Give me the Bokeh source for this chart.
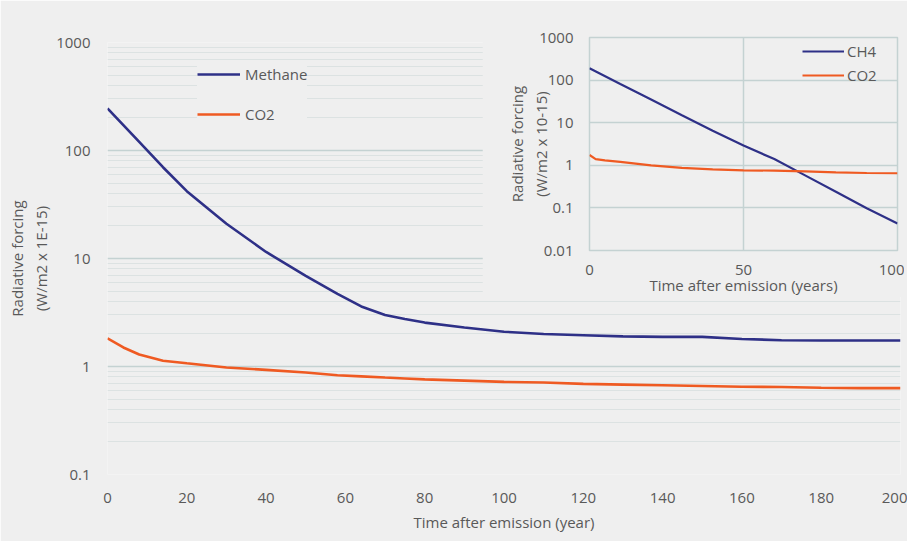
from bokeh.plotting import figure
from bokeh.models import Range1d, FixedTicker, Legend, LegendItem, CustomJSTickFormatter
from bokeh.layouts import column
from bokeh.embed import file_html
from bokeh.resources import INLINE

# ---- main chart data ----
years = [0, 4, 8, 14, 20, 30, 40, 50, 58, 64, 70, 75, 80, 90, 100, 110, 120, 130, 140, 150, 160, 170, 180, 190, 200]
methane = [245, 172, 120, 70, 42, 21, 11.5, 6.9, 4.7, 3.6, 3.0, 2.75, 2.55, 2.3, 2.1, 2.0, 1.95, 1.9, 1.88, 1.88, 1.8, 1.75, 1.74, 1.74, 1.74]
co2 = [1.82, 1.5, 1.29, 1.13, 1.07, 0.98, 0.93, 0.88, 0.83, 0.81, 0.79, 0.775, 0.76, 0.74, 0.72, 0.71, 0.69, 0.68, 0.67, 0.66, 0.65, 0.645, 0.635, 0.63, 0.63]
x_ticks = [0, 20, 40, 60, 80, 100, 120, 140, 160, 180, 200]
y_ticks = [0.1, 1, 10, 100, 1000]

# ---- inset data ----
inset_years_ch4 = [0, 10, 20, 30, 40, 50, 60, 70, 80, 90, 100]
inset_ch4 = [189, 81, 35, 15, 6.5, 2.9, 1.4, 0.58, 0.24, 0.098, 0.043]
inset_years_co2 = [0, 2, 5, 10, 20, 30, 40, 50, 60, 70, 80, 90, 100]
inset_co2 = [1.75, 1.4, 1.3, 1.2, 1.0, 0.87, 0.8, 0.76, 0.75, 0.72, 0.68, 0.66, 0.65]
inset_x_ticks = [0, 50, 100]
inset_y_ticks = [0.01, 0.1, 1, 10, 100, 1000]

BG = "#efefef"
TXT = "#595959"
MAJ = "#c4d2d2"
MIN = "#dce2e2"
NAVY = "#2e3087"
ORANGE = "#ef5a22"
FONT = "Open Sans"
FS = "15px"

fmt_code = "return Number(tick.toPrecision(6)).toString();"

minor = []
for d in [0.1, 1, 10, 100]:
    for k in range(2, 10):
        minor.append(d * k)


def style_axis(ax):
    ax.axis_line_color = None
    ax.major_tick_line_color = None
    ax.minor_tick_line_color = None
    ax.major_label_text_font = FONT
    ax.major_label_text_font_size = FS
    ax.major_label_text_color = TXT
    ax.axis_label_text_font = FONT
    ax.axis_label_text_font_size = FS
    ax.axis_label_text_font_style = "normal"
    ax.axis_label_text_color = TXT


p = figure(width=907, height=541, x_range=Range1d(0, 200), y_range=Range1d(0.1, 1000),
           y_axis_type="log", output_backend="svg", toolbar_location=None,
           min_border_left=107, min_border_right=7, min_border_top=42, min_border_bottom=67,
           background_fill_color=BG, border_fill_color=BG, outline_line_color=None)

p.xaxis.ticker = FixedTicker(ticks=x_ticks)
p.yaxis.ticker = FixedTicker(ticks=y_ticks, minor_ticks=minor)
p.yaxis.formatter = CustomJSTickFormatter(code=fmt_code)
style_axis(p.xaxis[0])
style_axis(p.yaxis[0])
p.xaxis.axis_label = "Time after emission (year)"
p.xaxis.major_label_standoff = 12
p.xaxis.axis_label_standoff = 6
p.yaxis.axis_label = "Radiative forcing\n(W/m2 x 1E-15)"
p.yaxis.major_label_standoff = 11
p.yaxis.axis_label_standoff = 2
p.xgrid.visible = False
p.ygrid.grid_line_color = MAJ
p.ygrid.grid_line_width = 1.5
p.ygrid.minor_grid_line_color = MIN
p.ygrid.minor_grid_line_width = 1.2

r1 = p.line(years, methane, line_color=NAVY, line_width=2.6)
r2 = p.line(years, co2, line_color=ORANGE, line_width=2.6)

leg = Legend(items=[LegendItem(label="Methane", renderers=[r1]),
                    LegendItem(label="CO2", renderers=[r2])],
             location=(90, 350), padding=10, margin=0, spacing=20,
             glyph_width=43, glyph_height=20, label_height=20, label_standoff=5,
             label_text_font=FONT, label_text_font_size=FS, label_text_color=TXT,
             background_fill_color=BG, background_fill_alpha=1.0, border_line_color=None)
p.add_layout(leg)

# ---- inset (overlaid on the main chart via a negative top margin) ----
q = figure(width=422, height=280, x_range=Range1d(0, 100), y_range=Range1d(0.01, 1000),
           y_axis_type="log", output_backend="svg", toolbar_location=None,
           min_border_left=107, min_border_right=7, min_border_top=20, min_border_bottom=46,
           background_fill_color=BG, border_fill_color=BG,
           outline_line_color=MAJ, outline_line_width=1.5,
           margin=(-524, 0, 0, 482))
q.xaxis.ticker = FixedTicker(ticks=inset_x_ticks)
q.yaxis.ticker = FixedTicker(ticks=inset_y_ticks)
q.yaxis.formatter = CustomJSTickFormatter(code=fmt_code)
style_axis(q.xaxis[0])
style_axis(q.yaxis[0])
q.xaxis.axis_label = "Time after emission (years)"
q.xaxis.major_label_standoff = 8
q.xaxis.axis_label_standoff = -3
q.yaxis.axis_label = "Radiative forcing\n(W/m2 x 10-15)"
q.yaxis.major_label_standoff = 10
q.yaxis.axis_label_standoff = -15
q.xgrid.ticker = FixedTicker(ticks=inset_x_ticks)
q.xgrid.grid_line_color = MAJ
q.xgrid.grid_line_width = 1.5
q.ygrid.grid_line_color = MAJ
q.ygrid.grid_line_width = 1.5

s1 = q.line(inset_years_ch4, inset_ch4, line_color=NAVY, line_width=2.2)
s2 = q.line(inset_years_co2, inset_co2, line_color=ORANGE, line_width=2.2)
leg2 = Legend(items=[LegendItem(label="CH4", renderers=[s1]),
                     LegendItem(label="CO2", renderers=[s2])],
              location=(213, 165), padding=0, margin=0, spacing=4,
              glyph_width=42, glyph_height=20, label_height=20, label_standoff=3,
              label_text_font=FONT, label_text_font_size=FS, label_text_color=TXT,
              background_fill_alpha=0.0, border_line_color=None)
q.add_layout(leg2)

layout = column(p, q)
open("out.html", "w").write(file_html(layout, INLINE))
